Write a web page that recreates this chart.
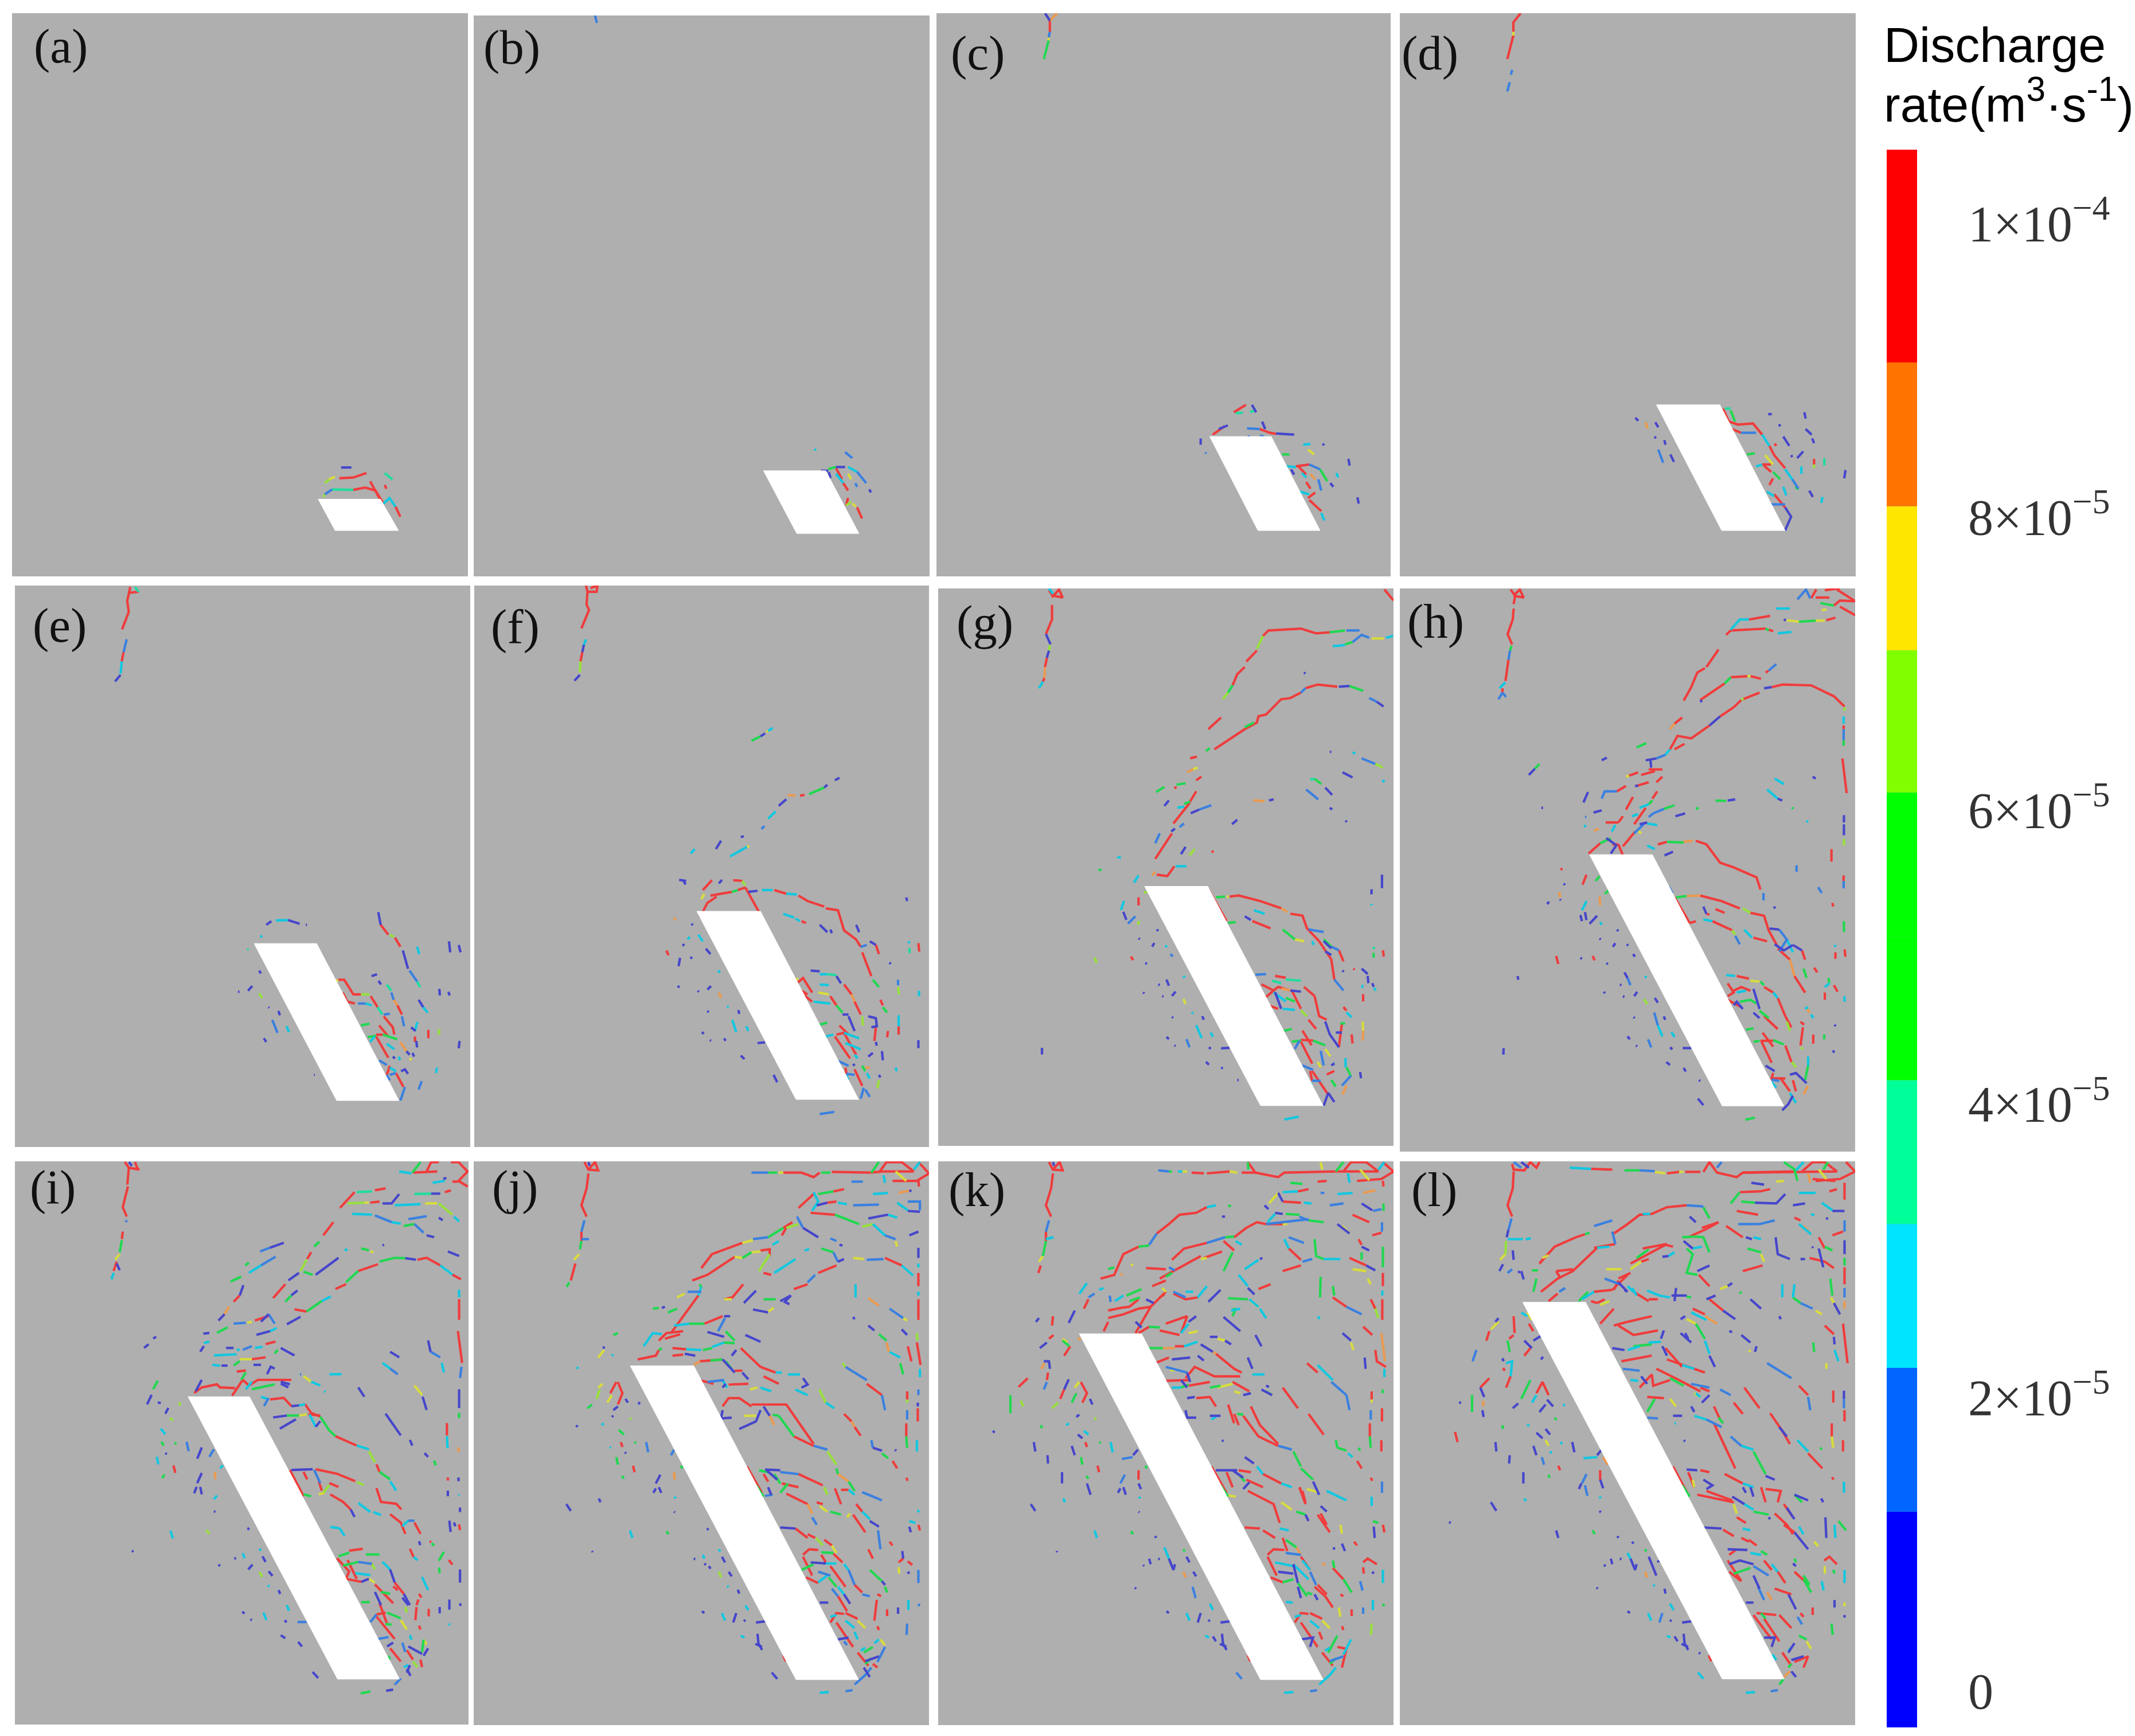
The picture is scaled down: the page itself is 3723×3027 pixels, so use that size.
<!DOCTYPE html>
<html><head><meta charset="utf-8"><script src="https://cdn.plot.ly/plotly-3.0.1.min.js"></script>
<style>html,body{margin:0;padding:0;background:#fff}</style></head><body><div id="chart"></div>
<script>
const panelLabels=["(a)","(b)","(c)","(d)","(e)","(f)","(g)","(h)","(i)","(j)","(k)","(l)"];
const colorBarBins=[-0.25,1.22,2.2,3.18,4.16,5.14,6.12,7.09,8.07,9.05,10.5];
const colorBarColors=["#0000ff","#0066ff","#00e5ff","#00ff99","#00ff00","#00ff00","#80ff00","#ffe600","#ff7300","#ff0000"];
const colorBarTicks=[0,2,4,6,8,10];
const colorBarTickText=["0","2×10<sup>−5</sup>","4×10<sup>−5</sup>","6×10<sup>−5</sup>","8×10<sup>−5</sup>","1×10<sup>−4</sup>"];
const segA=[["d",565,1253,582,1253],["r",562,1282,585,1280,607,1268],["y",545,1285,555,1278],["l",538,1295,545,1285],["r",613,1290,630,1340],["m",637,1268,650,1285],["r",637,1300,640,1310],["b",538,1325,550,1312],["m",550,1312,585,1313],["r",585,1313,605,1307,622,1315,635,1350],["c",635,1350,645,1335,655,1358],["r",655,1358,663,1385],["l",535,1332,540,1322]];
const segB=[["b",986,42,989,62],["c",1350,1203,1351,1208],["b",1400,1212,1412,1228],["d",1360,1262,1372,1262],["g",1372,1258,1385,1252],["d",1385,1252,1400,1252],["c",1405,1252,1420,1265],["b",1420,1265,1435,1295],["d",1440,1312,1443,1320],["r",1385,1255,1395,1285],["c",1385,1270,1397,1295],["y",1405,1270,1410,1285],["r",1397,1295,1405,1315],["b",1417,1295,1420,1305],["r",1405,1335,1402,1355],["l",1402,1355,1410,1345],["y",1412,1350,1418,1358],["r",1420,1360,1428,1390],["d",1373,1265,1376,1282]];
const segC=[["d",192,35,200,55],["o",212,35,200,55],["r",200,55,200,85],["b",200,85,198,100],["y",198,100,198,108],["g",198,108,190,158],["r",470,1165,490,1142],["d",480,1150,495,1140],["r",505,1105,525,1085],["m",508,1108,520,1106],["d",535,1085,542,1105],["m",532,1105,542,1098],["d",552,1130,557,1150],["b",527,1148,548,1150],["r",548,1150,565,1160,575,1163],["d",575,1162,605,1165],["d",450,1175,450,1192],["b",458,1212,459,1216],["b",528,1170,532,1170],["b",548,1168,555,1170],["c",620,1192,632,1190],["y",628,1205,638,1218],["d",652,1190,655,1193],["g",585,1218,597,1218],["c",592,1250,608,1252],["r",608,1250,630,1245],["b",630,1245,648,1258],["g",648,1258,660,1290],["r",612,1250,625,1272],["c",618,1268,625,1280],["o",632,1270,640,1285],["r",625,1292,632,1310],["b",645,1285,650,1315],["d",665,1295,670,1305],["d",695,1230,697,1248],["c",675,1268,678,1280],["c",615,1318,630,1325],["r",630,1340,650,1370],["c",650,1375,655,1395],["r",628,1335,640,1320],["d",710,1333,712,1350],["d",600,1258,605,1272]];
const segD=[["r",980,35,968,60,968,85],["y",968,85,968,95],["r",968,95,958,158],["b",966,187,964,200],["b",962,220,958,245],["d",1170,1120,1175,1128],["o",1187,1132,1190,1148],["d",1203,1132,1208,1145],["d",1202,1170,1204,1175],["d",1218,1180,1220,1192],["b",1208,1205,1216,1240],["d",1228,1218,1234,1238],["m",1318,1095,1328,1095],["g",1328,1100,1335,1130],["r",1315,1095,1325,1130,1340,1138,1365,1135,1380,1165],["b",1345,1160,1370,1160],["r",1330,1150,1345,1160],["c",1380,1165,1392,1195],["r",1392,1195,1400,1220,1418,1255],["y",1385,1220,1398,1245],["g",1355,1218,1368,1215],["c",1370,1250,1380,1245],["r",1380,1245,1395,1245],["r",1383,1248,1395,1265],["g",1398,1265,1410,1285],["c",1418,1258,1430,1285],["b",1430,1285,1440,1310],["c",1388,1318,1400,1330],["r",1400,1325,1418,1360],["b",1395,1352,1418,1352],["d",1418,1360,1428,1385,1418,1422],["d",1390,1110,1396,1110],["d",1450,1105,1452,1122],["d",1408,1137,1410,1143],["d",1452,1150,1462,1165],["d",1463,1175,1466,1188],["d",1415,1170,1425,1195],["r",1400,1190,1404,1194],["d",1428,1220,1430,1225],["d",1438,1228,1448,1210],["c",1445,1250,1445,1270],["r",1466,1230,1466,1245],["l",1466,1245,1466,1255],["m",1483,1228,1483,1248],["d",1518,1260,1516,1282],["d",1458,1315,1464,1332],["c",1480,1332,1478,1348],["r",1398,1282,1392,1300],["c",1415,1305,1420,1328],["g",1435,1305,1440,1312]];
const segE=[["r",430,22,420,60,425,90,403,138],["m",445,22,458,35],["r",425,38,458,35],["b",418,165,408,200],["r",408,200,402,225],["c",402,225,398,258],["d",398,262,380,280],["d",878,945,895,935],["c",910,933,950,932],["d",950,932,988,942],["d",1008,945,1012,945],["c",858,978,865,975],["m",815,1012,820,1012],["d",855,1070,860,1078],["d",818,1125,832,1112],["d",785,1128,790,1128],["l",855,1132,864,1145],["d",885,1170,888,1172],["d",918,1180,923,1192],["b",898,1205,915,1240],["c",945,1222,953,1238],["d",870,1255,878,1265],["d",1035,1355,1038,1355],["d",1247,910,1255,945],["r",1255,945,1280,972],["l",1285,972,1298,978],["r",1302,980,1320,1005],["d",1328,1015,1345,1065],["b",1350,1070,1375,1100],["m",1375,1100,1385,1115],["c",1375,1005,1382,1025],["d",1480,990,1484,1020],["d",1512,1000,1518,1020],["d",1225,1085,1243,1080],["d",1248,1098,1256,1108],["m",1275,1108,1290,1125],["b",1290,1130,1298,1150],["o",1298,1150,1310,1165],["r",1310,1165,1325,1190],["y",1108,1095,1115,1100],["r",1115,1095,1135,1095,1165,1135,1190,1135],["l",1190,1135,1218,1135],["r",1222,1140,1245,1170],["m",1245,1170,1260,1190],["r",1265,1195,1295,1225,1300,1245],["b",1265,1190,1285,1188],["r",1130,1130,1145,1155,1170,1160],["b",1180,1160,1205,1160],["c",1205,1160,1225,1165],["g",1190,1220,1218,1215],["d",1448,1120,1450,1138],["d",1478,1128,1482,1138],["d",1380,1150,1395,1170],["c",1395,1170,1410,1185],["r",1250,1220,1280,1250],["g",1212,1252,1240,1248],["r",1240,1245,1262,1245],["g",1262,1245,1310,1258],["o",1320,1265,1340,1290],["d",1340,1290,1350,1300],["y",1350,1310,1357,1314],["c",1220,1265,1235,1250],["r",1240,1250,1280,1308],["c",1275,1270,1300,1285],["b",1325,1195,1332,1222],["d",1355,1225,1370,1235],["c",1368,1235,1376,1210],["r",1368,1250,1368,1265],["d",1372,1262,1375,1280],["r",1412,1232,1412,1255],["l",1447,1230,1447,1245],["d",1515,1262,1512,1282],["d",1295,1305,1302,1310],["c",1315,1305,1318,1315],["d",1360,1295,1365,1305],["c",1440,1335,1438,1350],["b",1390,1372,1380,1395],["b",1250,1315,1275,1328],["c",1285,1335,1305,1345],["r",1285,1330,1275,1355],["b",1275,1355,1285,1370],["b",1285,1355,1305,1350],["r",1305,1350,1330,1388],["b",1335,1388,1320,1425],["d",1322,1345,1335,1340,1345,1352]];
const segF=[["r",400,18,405,35,402,70,410,85,385,135],["r",405,35,435,35,438,18,415,25],["c",400,165,393,180],["d",393,180,388,200],["r",388,200,382,225],["l",382,225,380,255],["d",380,262,362,278],["g",945,442,975,430],["d",975,430,990,422],["y",995,418,1000,415],["c",1000,415,1015,407],["d",1220,550,1235,543],["g",1135,588,1185,570],["d",1185,570,1195,562],["o",1065,590,1090,592],["r",1105,592,1120,590],["d",1035,620,1060,602],["c",1000,655,1025,635],["b",978,683,988,675],["d",910,705,920,703],["c",875,758,930,732],["y",930,732,938,730],["d",828,738,845,715],["c",745,750,758,738],["d",707,822,730,825],["d",722,825,728,835],["d",838,832,848,822],["r",785,850,815,823],["y",780,875,790,860],["r",885,823,915,825],["l",915,825,925,838],["r",775,925,800,885,830,868],["r",810,865,880,855],["g",880,855,900,850],["r",900,850,925,843],["r",925,843,980,925],["d",935,855,965,852],["c",980,850,1015,850],["r",1020,850,1060,860],["c",1060,860,1095,862],["r",1100,865,1130,880,1185,895],["r",1190,900,1230,905,1250,960,1290,985,1305,1005],["b",1305,1005,1325,1000],["r",1310,1020,1340,1085],["g",1345,1095,1365,1115],["c",1050,915,1085,925],["c",1090,928,1105,935],["r",1110,935,1125,940],["d",1170,945,1195,965],["d",1205,958,1210,968],["d",1290,945,1300,965],["d",1335,990,1355,1000],["r",1355,1000,1365,1025],["d",1455,870,1458,880],["c",1462,990,1466,995],["m",1465,1008,1466,1022],["r",1495,995,1498,1018],["o",690,925,695,932],["d",748,942,752,946],["c",735,985,742,978],["c",770,972,785,990],["d",718,998,724,1002],["d",710,1035,705,1058],["d",746,1032,748,1038],["r",665,1015,672,1028],["d",795,1010,810,1025],["c",835,1070,842,1075],["d",702,1112,708,1116],["d",768,1125,772,1128],["d",800,1122,812,1112],["o",838,1130,845,1145],["c",865,1168,870,1170],["d",800,1180,804,1184],["d",902,1178,905,1188],["c",882,1205,895,1238],["c",928,1222,935,1235],["d",782,1238,788,1243],["d",855,1255,860,1262],["d",808,1260,812,1262],["d",965,1268,990,1266],["d",910,1302,922,1312],["d",1018,1355,1030,1375],["b",1170,1462,1218,1456],["y",1088,1095,1100,1092],["r",1095,1105,1115,1090,1145,1130],["y",1165,1130,1200,1135],["d",1140,1070,1170,1072],["c",1170,1080,1195,1080],["m",1195,1080,1225,1082],["d",1225,1085,1240,1105],["r",1250,1108,1275,1135],["o",1275,1135,1285,1155],["r",1285,1155,1305,1190],["c",1170,1108,1200,1110],["r",1110,1125,1130,1135],["r",1115,1135,1145,1155],["c",1150,1155,1205,1160],["r",1205,1140,1225,1165],["g",1225,1165,1245,1185],["d",1245,1190,1265,1190],["r",1235,1220,1265,1245],["d",1265,1195,1285,1235],["g",1170,1218,1195,1212],["c",1190,1250,1215,1245],["r",1225,1245,1250,1240,1290,1300],["r",1220,1250,1270,1310],["c",1250,1240,1300,1255],["c",1255,1268,1305,1285],["d",1330,1195,1355,1200,1358,1222,1340,1225],["l",1310,1195,1312,1220],["r",1355,1225,1350,1262],["d",1355,1265,1358,1275],["r",1395,1235,1392,1252],["r",1430,1222,1430,1245],["c",1430,1192,1430,1222],["l",1428,1115,1431,1135],["b",1428,1095,1428,1110],["c",1497,1125,1497,1140],["d",1495,1260,1495,1282],["r",1370,1150,1378,1165],["g",1378,1170,1392,1185],["d",1400,1048,1404,1052],["d",1375,1290,1378,1315],["d",1330,1305,1345,1295],["c",1420,1335,1424,1345],["b",1225,1315,1265,1330],["r",1255,1335,1258,1352],["r",1285,1340,1310,1385],["c",1255,1355,1265,1368],["b",1258,1352,1285,1355],["g",1310,1330,1320,1345],["o",1320,1335,1335,1335],["c",1325,1350,1335,1365],["l",1365,1370,1360,1392],["d",1365,1355,1370,1362],["b",1315,1390,1305,1420],["b",1320,1395,1335,1415],["c",1285,1300,1295,1310],["d",1280,1325,1285,1330]];
const segG=[["r",395,30,408,45,405,50],["r",410,45,440,50,428,28,410,45],["c",395,25,408,40],["r",405,70,405,110,385,150],["d",385,150,400,178],["l",398,180,395,195],["d",395,195,388,215],["r",388,215,382,240],["o",382,240,380,270],["r",380,270,375,280],["c",375,280,362,298],["l",968,328,985,310],["g",985,310,1000,290],["r",1000,290,1015,260,1040,240],["r",1045,225,1080,195],["l",1080,190,1100,155],["r",1100,155,1118,140,1225,135,1275,148,1320,145],["g",1320,145,1370,140],["b",1375,140,1418,140],["c",1330,183,1370,180],["g",1370,178,1395,172],["b",1395,172,1425,152,1450,160],["y",1458,162,1498,162],["c",1505,160,1528,155],["r",1500,28,1530,58],["r",940,465,1040,410,1080,392,1085,375,1110,370,1160,328,1190,325,1225,310],["b",1225,310,1240,298],["r",1240,298,1280,288,1345,294],["d",1350,294,1385,292],["g",1385,292,1430,305],["b",1450,325,1475,335],["d",1475,335,1497,348],["g",1040,405,1070,392],["g",912,470,925,462],["r",920,410,962,378],["r",860,490,882,485],["o",850,528,870,520],["y",870,520,885,515],["r",880,550,897,540],["g",748,582,775,568],["r",808,572,815,568],["g",815,562,845,558],["d",775,620,790,605],["c",818,625,840,622],["g",840,615,860,608],["r",860,608,880,580],["r",860,610,805,668],["d",862,640,890,630],["b",890,630,930,618],["b",825,678,840,668],["d",798,690,810,682],["r",800,695,745,765],["b",745,722,760,695],["d",830,752,845,732],["l",858,755,875,738],["r",930,745,938,745],["d",998,670,1015,658],["o",1068,605,1105,607],["d",1120,605,1135,602],["d",1235,255,1240,258],["d",1320,472,1325,472],["c",1395,474,1405,476],["b",1425,490,1470,505],["l",1470,505,1495,515],["c",1497,548,1497,556],["d",1362,528,1395,542],["m",1255,548,1270,546],["g",1270,546,1292,560],["b",1242,575,1282,602],["d",1305,570,1328,590],["d",1320,625,1328,630],["d",1372,660,1376,664],["d",1492,808,1492,845],["d",1458,848,1457,862],["c",1458,888,1457,892],["o",735,810,745,800],["r",750,808,785,812,808,785],["c",812,785,848,785],["c",675,830,690,810],["l",708,858,718,855],["r",690,870,690,892],["c",632,905,642,880],["d",640,910,650,932],["b",655,942,680,922],["l",688,945,692,935],["c",620,760,632,762],["g",558,795,568,795],["l",545,1035,552,1050],["r",665,1032,672,1042],["d",750,958,755,962],["d",690,982,694,985],["d",735,1005,742,995],["c",778,1002,784,1006],["b",795,1025,803,1032],["d",712,1050,718,1052],["d",782,1095,790,1112],["d",755,1108,760,1110],["c",838,1085,842,1090],["d",705,1130,709,1133],["d",768,1140,772,1142],["d",800,1140,812,1128],["y",838,1148,845,1162],["c",865,1185,870,1188],["d",800,1197,804,1200],["d",900,1195,905,1205],["c",880,1220,898,1255],["c",928,1240,935,1252],["d",782,1252,790,1258],["b",848,1258,858,1280],["d",808,1275,812,1277],["d",922,1280,928,1285],["d",962,1283,990,1282],["d",912,1320,922,1328],["d",962,1336,968,1338],["d",1015,1370,1020,1370],["d",372,1282,372,1300],["c",1170,1478,1218,1470],["g",945,870,975,868],["y",980,868,988,868],["r",990,868,1020,865,1090,880,1160,900],["o",1160,900,1180,910],["r",1190,915,1230,920,1245,955,1285,990],["r",1285,990,1325,1040,1335,1095],["b",1335,1095,1365,1125],["b",1250,958,1300,965],["d",1300,990,1325,1010],["g",1300,985,1325,1005],["b",1325,1005,1350,1015],["r",1350,1015,1365,1045],["r",920,848,980,935],["g",985,940,1010,938],["c",1070,905,1105,915],["d",1040,922,1060,932],["r",1065,935,1125,955],["g",1165,958,1205,985],["y",1205,985,1235,990],["c",1262,990,1268,1000],["d",1305,1018,1325,1028],["d",1362,1070,1366,1074],["r",1398,1065,1402,1068],["d",1425,1065,1445,1080],["d",1445,1085,1447,1105],["c",1428,1110,1427,1118],["d",1460,1105,1465,1115],["c",1465,1118,1472,1125],["r",1430,1135,1430,1155],["m",1465,1005,1465,1012],["g",1464,1022,1465,1035],["r",1495,1015,1498,1032],["b",1075,1082,1110,1080],["r",1140,1085,1175,1090],["m",1130,1098,1160,1105],["m",1175,1095,1225,1098],["r",1235,1115,1270,1140],["r",1270,1140,1285,1195,1310,1205],["r",1095,1108,1135,1125,1100,1150],["r",1135,1125,1150,1115,1190,1125],["o",1160,1120,1195,1125],["d",1190,1125,1225,1128],["r",1195,1125,1225,1175],["l",1225,1180,1245,1195],["c",1135,1130,1175,1155],["c",1165,1175,1205,1178],["r",1115,1165,1150,1175],["d",1140,1130,1160,1175],["g",1175,1145,1205,1155],["r",1250,1205,1275,1230],["d",1305,1210,1320,1245,1350,1280],["d",1340,1240,1360,1240],["r",1360,1215,1350,1280],["g",1355,1215,1370,1215],["r",1365,1170,1375,1180],["c",1375,1185,1392,1198],["r",1392,1245,1395,1270],["y",1428,1210,1430,1235],["o",1430,1235,1428,1262],["g",1170,1235,1195,1230],["r",1230,1235,1260,1275],["r",1225,1260,1265,1262],["b",1205,1285,1220,1262],["g",1195,1265,1225,1262],["g",1265,1262,1305,1275],["y",1305,1285,1322,1305],["r",1225,1265,1262,1325],["b",1290,1290,1300,1330],["y",1280,1320,1290,1335],["d",1325,1330,1335,1325],["b",1230,1330,1265,1342],["r",1255,1345,1262,1372],["b",1262,1372,1290,1372],["c",1255,1375,1265,1395],["r",1262,1345,1315,1410],["d",1300,1440,1315,1405,1335,1430],["r",1310,1355,1335,1345],["g",1375,1335,1390,1360],["b",1360,1385,1390,1358],["o",1375,1385,1362,1410],["g",1325,1370,1340,1388],["c",1372,1310,1372,1335],["d",1420,1348,1423,1365],["b",1330,1325,1336,1325]];
const segH=[["r",405,28,420,45,415,68],["r",415,45,448,50,435,28,415,45],["r",415,80,412,110,395,150,410,178],["g",408,182,403,195],["b",403,195,398,220],["r",398,220,388,278],["c",388,282,368,298],["r",378,298,378,310],["b",378,310,365,328],["b",378,310,390,322],["b",1350,55,1378,28,1392,52],["r",1395,52,1412,28],["r",1410,50,1455,50],["g",1425,65,1470,72],["r",1470,72,1490,58,1540,60],["r",1480,28,1540,60],["r",1490,75,1540,98],["r",1440,30,1490,25],["c",1280,80,1325,80],["y",1430,85,1445,82],["r",1115,152,1130,140,1245,135],["g",1245,135,1255,140],["r",1255,138,1270,142],["c",1285,148,1330,144],["c",1130,138,1160,110,1190,110],["r",1190,110,1260,100],["d",1305,110,1312,112],["y",1315,112,1355,116],["g",1355,116,1410,113],["y",1410,113,1440,113],["r",1445,112,1475,105],["r",1050,240,1090,192],["r",975,332,1000,295,1020,255,1045,243],["r",1030,330,1110,285],["g",1110,285,1130,268],["r",1130,268,1185,265],["y",1185,265,1195,265],["r",1195,265,1230,272],["r",1245,255,1255,250],["b",1255,250,1280,232],["d",1030,330,1035,336],["r",1170,328,1225,310],["d",1240,298,1265,295],["r",1265,295,1300,288,1395,290,1470,320,1505,348],["l",1505,350,1505,360],["r",1140,350,1165,330],["l",1165,330,1172,325],["d",1060,400,1095,375],["r",1095,375,1140,350],["r",1060,400,1000,435,955,428,930,465],["c",930,465,915,480],["b",915,480,885,490],["d",850,495,885,490],["d",865,490,868,515],["r",945,465,978,450],["c",1502,375,1502,395],["r",1502,400,1502,410],["b",1502,410,1502,440],["g",1502,440,1502,455],["r",1498,490,1512,585],["r",945,395,970,378],["o",930,410,945,395],["g",820,460,852,448],["d",705,495,722,488],["r",835,535,880,525],["y",785,540,795,537],["r",795,537,825,528],["r",860,520,905,520],["r",885,555,905,540],["r",820,565,860,555],["d",815,565,825,565],["r",785,630,808,595],["r",812,670,850,625],["c",830,625,860,615],["g",860,615,872,605],["r",872,600,888,580],["d",645,610,660,582],["b",705,600,715,580,755,580],["r",755,580,785,565],["d",678,638,705,632],["b",650,650,655,650],["c",648,678,652,672],["r",718,665,760,665],["r",760,665,775,648],["c",805,648,825,642],["b",860,650,875,640],["b",875,640,910,628],["g",910,628,945,618],["d",948,648,980,640],["g",1015,628,1025,625],["g",1080,605,1115,606],["d",1120,605,1145,602],["d",830,670,855,665],["c",855,668,888,672],["b",812,695,845,668],["r",662,750,700,722],["g",700,722,735,708],["d",720,708,750,725],["d",735,750,755,725],["r",760,725,780,765],["r",740,725,760,725],["r",775,730,815,690],["y",825,688,835,695],["c",855,728,880,738],["d",912,755,940,745],["r",890,725,920,718],["g",920,718,975,720],["o",975,718,1005,715],["r",1015,715,1050,725,1095,775,1140,788,1215,815,1228,848],["b",1238,858,1238,878],["d",1272,895,1277,900],["c",738,690,750,672],["o",680,688,695,682],["d",465,535,485,518],["g",485,518,500,505],["d",506,625,512,625],["r",570,795,575,790],["d",580,832,584,836],["o",565,855,568,870],["d",525,888,532,882],["d",568,875,570,878],["r",642,835,655,808],["c",640,905,655,880],["g",685,825,698,812],["g",715,860,730,850],["o",698,868,700,892],["d",635,918,640,935],["d",650,910,655,932],["d",665,942,690,920],["c",700,938,705,945],["d",755,958,760,962],["d",698,982,702,985],["d",742,1005,750,995],["d",788,998,792,1002],["d",808,1025,815,1032],["r",555,1030,562,1052],["d",635,1035,640,1038],["r",675,1030,682,1042],["d",720,1050,726,1052],["d",428,1085,430,1095],["d",780,1075,790,1090],["b",790,1090,800,1110],["c",848,1085,852,1090],["d",765,1108,770,1110],["d",712,1128,716,1132],["d",775,1140,780,1142],["d",812,1140,822,1128],["l",845,1148,855,1162],["d",880,1145,890,1158],["d",810,1197,814,1200],["d",910,1195,914,1205],["b",878,1185,890,1220],["c",890,1220,905,1250],["c",935,1238,945,1252],["d",790,1250,798,1258],["b",858,1258,868,1280],["d",818,1275,822,1277],["d",930,1280,938,1285],["d",972,1282,1000,1282],["d",382,1282,381,1300],["d",918,1320,930,1328],["d",975,1336,982,1346],["d",1025,1370,1030,1372],["d",1022,1420,1040,1438],["g",1178,1478,1210,1472],["b",925,840,938,858],["g",950,870,985,866],["o",985,866,1030,865],["r",1030,865,1100,880,1160,900],["l",1170,900,1195,912],["r",1195,912,1240,920,1255,960,1275,990,1285,1005],["r",945,870,995,940],["r",995,940,1015,935],["d",1040,895,1050,915],["r",1050,915,1060,917],["r",1080,902,1110,912],["c",1040,930,1070,935],["r",1070,935,1135,960],["l",1135,960,1145,972],["b",1145,975,1160,998],["c",1175,958,1200,980],["r",1205,980,1250,990],["d",1258,955,1290,958],["b",1290,958,1315,985,1290,1018],["d",1275,998,1305,1015,1335,1000],["c",1315,985,1335,1020],["d",1335,1000,1365,1015],["r",1365,1015,1375,1040],["r",1285,1010,1325,1040],["o",1325,1040,1340,1085],["r",1340,1085,1375,1130],["g",1370,1065,1380,1090],["r",1405,1062,1415,1075],["d",1503,645,1503,665],["d",1503,670,1503,700],["l",1503,710,1503,728],["r",1462,738,1462,772],["b",1347,782,1347,800],["r",1502,810,1502,825],["b",1502,825,1502,845],["b",1418,842,1430,858],["r",1465,885,1468,895],["g",1503,935,1503,965],["c",1472,1000,1476,1005],["r",1475,1020,1475,1038],["r",1505,1012,1508,1032],["c",1380,660,1385,664],["c",1275,545,1305,560],["c",1250,575,1285,600],["d",1285,600,1300,605],["g",1332,624,1336,628],["d",1400,540,1410,545],["c",1115,1082,1145,1085],["r",1150,1085,1190,1092],["y",1195,1098,1225,1100],["g",1228,1100,1240,1110],["r",1240,1115,1270,1130],["c",1270,1130,1285,1145],["r",1285,1145,1310,1195],["r",1120,1105,1140,1130,1120,1140],["r",1140,1125,1165,1115,1195,1125],["c",1150,1130,1180,1125],["r",1120,1150,1165,1170],["d",1140,1165,1150,1155,1170,1175],["g",1160,1155,1195,1150,1215,1160],["d",1205,1120,1225,1175],["d",1205,1185,1225,1200],["g",1225,1180,1255,1200],["r",1240,1195,1285,1230],["r",1310,1195,1330,1225],["l",1315,1210,1325,1235],["g",1180,1232,1205,1228],["r",1235,1240,1270,1278],["r",1228,1262,1270,1262],["g",1205,1265,1225,1262],["g",1270,1260,1305,1272],["r",1232,1265,1265,1322],["r",1310,1275,1330,1320],["l",1332,1320,1345,1335],["d",1245,1330,1275,1345],["r",1270,1350,1265,1365,1310,1365],["b",1265,1368,1290,1372],["c",1265,1375,1280,1390],["r",1295,1365,1325,1400],["c",1325,1405,1345,1432],["d",1325,1355,1345,1350,1380,1378],["r",1335,1370,1345,1400],["c",1385,1305,1385,1330],["g",1385,1330,1375,1370],["o",1385,1385,1370,1408],["d",1300,1452,1320,1435,1335,1412],["r",1360,1210,1372,1218],["r",1368,1225,1360,1275],["l",1362,1280,1368,1285],["c",1375,1175,1385,1170],["r",1402,1245,1402,1270],["g",1438,1245,1438,1258],["d",1468,1288,1470,1295],["d",1472,1218,1476,1222],["o",1378,1170,1390,1185],["c",1395,1190,1402,1200],["c",1440,1115,1455,1105],["g",1452,1090,1455,1105],["r",1440,1130,1440,1150],["r",1470,1110,1482,1128],["c",1505,1140,1505,1155],["r",1365,1118,1375,1130]];
const segI=[["r",412,40,425,55,420,100],["r",425,55,460,60],["d",425,40,435,50],["r",445,40,455,60],["r",422,105,405,160,418,185],["b",415,195,418,200],["r",405,225,402,245],["g",402,248,395,280],["y",395,285,380,300],["r",385,305,375,330],["d",385,310,395,328],["c",375,335,368,352],["r",1360,68,1440,65],["g",1358,68,1385,40],["c",1315,65,1355,70],["r",1405,65,1420,40,1445,40],["r",1485,40,1510,40,1540,65,1510,90,1540,105],["c",1425,95,1465,90],["d",1460,85,1470,82],["r",1490,92,1510,92],["r",1120,162,1168,120],["m",1175,120,1225,118],["r",1235,115,1270,110],["l",1145,150,1200,148],["y",1200,148,1215,148],["r",1220,148,1250,145],["d",1260,150,1290,150,1315,125],["c",1300,155,1385,152],["y",1400,150,1440,150],["l",1445,150,1490,180],["c",1495,185,1512,198],["m",1365,125,1420,124],["d",1420,124,1450,124],["r",1465,120,1485,115],["c",1160,178,1225,180],["b",1235,182,1290,200],["c",1290,200,1320,204],["g",1330,210,1365,205],["b",1365,205,1395,228],["d",1405,235,1430,240],["b",1345,192,1405,184],["d",1445,188,1458,195],["d",1475,278,1512,290],["d",1260,262,1265,260],["r",1065,235,1098,200],["g",1035,265,1052,252],["r",1012,298,1025,280],["l",990,330,1010,300],["g",1000,332,1030,340],["d",1040,340,1115,295],["c",1135,275,1145,272],["g",1190,270,1215,275],["y",1220,278,1230,280],["r",900,402,940,365],["d",950,355,985,335],["g",940,412,960,395],["d",960,395,980,382],["b",857,278,890,268],["d",890,268,935,255],["c",820,335,860,315],["b",860,315,908,292],["g",808,315,820,308],["g",760,358,795,345],["d",790,395,802,368],["r",770,412,790,395],["o",740,445,755,425],["d",720,462,740,445],["r",1105,378,1140,365],["g",1140,360,1180,330],["r",1180,330,1245,312],["g",1250,305,1300,295,1335,296],["d",1335,296,1370,300],["r",1375,300,1405,295,1450,315],["c",1450,315,1490,340],["r",1490,340,1518,352],["c",1512,380,1512,400],["r",1512,405,1512,460],["r",1508,490,1522,575],["b",1520,585,1515,615],["d",1512,645,1512,695],["g",1512,708,1512,722],["r",1472,735,1472,768],["c",1472,770,1474,802],["o",1510,800,1510,812],["d",1510,880,1510,890],["r",1475,880,1475,888],["d",1475,915,1475,930],["c",1512,925,1512,928],["d",1515,960,1515,972],["d",1480,995,1484,1025],["d",1495,1000,1500,1010],["r",1512,1005,1515,1020],["r",970,432,1010,438],["g",1010,438,1060,410],["c",1060,410,1090,398],["d",945,472,990,452],["d",845,500,890,490],["c",890,490,912,482],["b",905,470,885,445],["d",885,445,860,465],["r",840,462,885,450],["y",815,468,830,465],["b",770,470,810,468],["g",715,495,750,480],["d",670,497,690,495],["c",672,522,690,518],["d",660,545,672,530],["r",875,525,908,518],["c",840,535,865,532],["b",800,540,830,530],["d",745,535,770,535],["c",705,555,780,552],["c",780,540,790,540],["g",905,550,915,540],["d",925,535,970,555],["g",770,582,790,570],["y",790,565,830,565],["r",830,565,875,560],["c",700,580,725,582],["d",730,582,750,582],["d",835,580,860,580],["d",880,605,892,585,905,590],["r",780,598,810,595],["g",795,620,810,600],["r",640,655,665,640,715,632,725,640,775,642],["r",765,662,800,620,820,635,850,620,960,620],["c",810,645,830,625],["g",830,645,905,632],["d",925,625,955,632],["d",925,630,950,640],["y",1000,610,1025,625],["c",1025,625,1055,635],["c",1085,605,1125,605],["b",988,605,992,605],["c",1068,650,1072,652],["d",645,650,665,620],["d",1180,640,1200,665],["y",1365,635,1390,660],["d",1392,665,1405,700],["d",1270,710,1320,768],["d",1350,780,1358,795],["d",1398,815,1410,825],["g",1430,835,1435,848],["c",1260,575,1285,590],["b",1285,590,1310,605],["d",1285,545,1315,560],["d",1410,515,1418,545],["b",1418,545,1450,560],["c",1455,575,1462,600],["d",475,535,490,525],["d",505,510,515,505],["g",505,645,520,622],["d",485,685,500,660],["d",520,680,530,682],["l",590,680,595,688],["d",545,710,555,695],["l",560,722,570,728],["c",530,750,545,765],["g",532,785,540,795],["g",575,788,582,790],["d",545,815,550,818],["c",517,825,522,845],["r",572,848,578,868],["g",535,882,542,872],["b",615,785,622,810],["d",650,830,665,800],["b",690,825,705,805],["c",725,855,735,848],["d",650,895,665,868],["o",708,865,710,885],["d",640,922,648,905],["d",660,905,665,925],["c",705,938,715,928],["d",705,970,710,972],["c",562,1022,570,1042],["l",680,1020,690,1030],["d",435,1075,440,1078],["d",815,1015,822,1018],["d",720,1112,725,1116],["c",800,1082,806,1095],["d",772,1095,778,1096],["c",855,1070,860,1075],["d",865,1090,875,1105],["d",818,1125,832,1112],["l",855,1132,864,1145],["d",885,1130,898,1142],["c",882,1168,888,1170],["d",918,1180,923,1190],["c",945,1220,952,1235],["d",798,1238,806,1242],["c",868,1240,878,1260],["d",825,1258,830,1260],["d",938,1260,944,1266],["b",980,1265,1010,1265],["d",925,1300,940,1308],["d",982,1318,995,1330],["d",1030,1398,1048,1414],["g",1188,1455,1220,1450],["d",1272,1448,1295,1445],["b",1300,1432,1320,1415],["b",885,668,870,690],["c",860,665,885,672],["r",890,672,935,668,960,690],["d",960,690,985,688],["c",985,688,1005,685],["r",1005,685,1025,708,1055,718],["g",1055,718,1085,755,1105,770],["r",1105,770,1175,795],["c",1175,795,1215,805],["l",1215,810,1235,840],["r",1240,845,1250,865],["g",1250,865,1285,885],["c",1285,890,1305,915],["d",900,720,945,715],["g",945,715,985,715],["y",985,715,1010,712],["r",1015,712,1055,715],["c",1020,712,1040,745],["d",1040,745,1055,730],["d",922,750,975,725],["r",955,860,1000,930],["d",960,860,1030,858],["r",1040,858,1110,870,1170,890],["l",1175,892,1198,900],["r",1000,865,1012,885],["b",1035,860,1055,895],["r",1050,890,1060,915],["l",1065,920,1085,900],["r",1085,895,1115,905],["g",1000,925,1025,930],["y",1050,925,1070,920],["r",1088,925,1130,945,1155,965],["d",1155,965,1168,985],["c",1180,948,1220,972],["c",1230,972,1255,980],["r",1240,908,1255,945,1305,950,1322,965],["r",1285,978,1320,1000,1335,1030],["c",1325,1010,1345,995],["b",1345,995,1365,995],["r",1365,1000,1385,1030],["c",1088,1012,1118,1015],["c",1118,1015,1135,1035],["d",1380,1050,1384,1060],["r",1350,1070,1362,1092],["c",1362,1092,1375,1100],["r",1415,1050,1420,1052],["g",1422,1055,1430,1062],["g",1445,1102,1462,1078],["g",1446,1120,1448,1135],["r",1478,1100,1490,1112],["d",1515,1125,1515,1160],["c",1390,1145,1410,1180],["r",1380,1190,1388,1200],["r",1378,1205,1372,1220],["r",1372,1225,1368,1260],["r",1412,1230,1412,1250],["d",1448,1225,1448,1242],["d",1480,1205,1480,1232],["d",1516,1215,1516,1222],["c",1478,1270,1482,1273],["g",1115,1090,1150,1080],["r",1150,1075,1195,1070],["g",1205,1085,1250,1085],["c",1260,1105,1285,1125],["d",1285,1125,1300,1160],["r",1300,1160,1330,1190],["d",1330,1190,1350,1220],["r",1110,1095,1150,1130,1140,1150],["g",1130,1115,1180,1105],["b",1180,1105,1225,1110],["l",1225,1110,1235,1125],["r",1145,1100,1175,1150],["c",1170,1135,1220,1140],["r",1140,1150,1190,1158],["d",1190,1158,1215,1150],["y",1215,1150,1235,1160],["r",1235,1165,1295,1215],["d",1235,1185,1255,1220],["g",1255,1185,1285,1190],["g",1190,1212,1218,1212],["r",1240,1245,1270,1240],["r",1250,1215,1275,1270],["b",1220,1265,1240,1245],["g",1275,1240,1320,1255],["y",1320,1260,1340,1285],["r",1240,1250,1300,1310],["r",1295,1170,1310,1180],["d",1325,1200,1345,1220],["l",1335,1225,1340,1240],["g",1270,1270,1290,1272],["b",1245,1310,1280,1305],["d",1275,1330,1295,1320],["r",1285,1335,1320,1370],["c",1350,1300,1355,1312],["b",1325,1320,1335,1345],["d",1345,1330,1390,1350],["d",1395,1355,1410,1335],["g",1390,1345,1395,1312],["y",1395,1312,1405,1325],["r",1340,1340,1360,1365],["r",1385,1365,1390,1385],["l",1360,1370,1375,1385],["c",1330,1385,1345,1380],["d",1350,1380,1340,1400],["d",1340,1390,1352,1408],["r",1380,1275,1385,1285],["g",1278,1355,1285,1365]];
const segJ=[["r",395,40,408,60,440,62,430,40,408,60],["d",408,40,412,50],["r",408,70,402,110,385,155,402,185],["b",395,195,385,225],["r",385,225,385,250],["g",385,250,380,272],["b",385,245,410,245],["y",378,285,360,300],["r",365,310,350,355],["g",345,360,336,372],["b",945,68,1000,68],["g",1000,68,1030,68],["y",1035,68,1050,68],["r",1050,68,1110,68,1150,80,1170,68],["g",1175,68,1205,68],["r",1210,66,1340,68],["r",1340,68,1375,65,1480,65],["g",1340,68,1365,40],["r",1365,68,1390,40,1440,40,1480,65],["r",1410,90,1490,90,1530,70,1495,40],["y",1420,65,1455,90],["c",1480,60,1500,40],["c",1380,75,1385,95],["r",1495,90,1497,105],["b",1275,92,1312,92],["c",1345,125,1395,122],["o",1430,122,1470,115],["d",1465,118,1472,115],["r",1100,162,1150,125],["c",1150,120,1165,145,1145,170],["g",1165,125,1215,118],["r",1215,118,1250,112],["d",1160,155,1195,148],["r",1195,148,1225,145],["c",1230,148,1260,152],["b",1280,155,1365,153],["r",1140,175,1220,180],["g",1220,180,1300,205],["l",1310,212,1345,205],["c",1345,205,1385,235],["b",1385,235,1420,245],["y",1420,250,1425,265],["d",1330,190,1395,180],["c",1395,180,1425,188],["c",1425,148,1460,168],["d",1460,170,1500,172],["b",1460,145,1500,145,1500,168],["d",1465,235,1495,225],["d",1495,268,1495,295],["c",1495,310,1495,320],["r",1495,335,1495,370],["c",1495,385,1495,395],["r",1495,405,1495,460],["b",1095,185,1115,215],["d",1115,215,1165,240],["b",1205,243,1225,250],["d",1235,260,1245,262],["l",1100,205,1060,215],["r",1060,215,1045,235],["r",1050,215,1080,200],["g",1000,240,1050,215],["b",950,245,1000,240],["y",915,255,950,248],["r",780,322,815,285,915,255],["c",1015,260,1035,250],["r",750,355,800,340,890,292],["y",890,292,915,295],["g",915,295,945,280],["y",945,280,975,278],["r",975,275,1005,272,1005,290],["l",1005,285,970,330],["r",985,335,1010,340],["c",1020,335,1090,298],["c",1120,275,1135,272],["g",1175,270,1215,280],["b",1215,280,1230,305],["r",1165,335,1225,315],["d",1230,305,1250,298],["y",1280,295,1315,298],["b",1325,300,1380,298],["r",1385,295,1440,315],["c",1440,315,1478,342],["r",1085,378,1130,365],["b",1130,360,1155,340],["r",855,405,880,400],["r",880,402,918,365],["y",855,405,880,405],["d",920,415,960,382],["g",985,405,1025,405],["d",1040,410,1075,395,1055,412,1070,418],["d",950,432,1000,440],["y",1000,438,1018,428],["c",1288,365,1288,400],["o",1330,402,1365,422],["b",1400,430,1445,455],["y",1445,455,1458,462],["d",1440,485,1458,500],["b",735,385,780,385],["g",775,365,780,375],["c",780,372,770,395],["r",770,395,680,495],["y",700,400,725,390],["g",620,430,640,428],["d",650,428,660,425],["g",670,440,700,430],["c",690,475,740,470],["g",740,470,790,470],["r",790,470,850,450],["d",855,450,875,450],["b",858,455,835,490],["d",800,492,855,505],["g",860,490,890,515],["r",640,515,665,495,720,490],["c",590,530,620,495,650,498],["r",660,510,710,498],["r",570,565,630,555,640,540],["g",640,540,650,535],["r",685,535,730,538],["c",730,538,780,540],["g",785,540,815,535],["r",685,555,720,552],["d",725,550,760,555],["c",815,532,855,520],["g",855,520,890,522],["d",925,500,975,518],["d",880,555,895,540],["r",910,535,975,585],["r",975,585,1025,600],["c",1025,600,1045,600],["c",1065,605,1105,605],["d",1110,640,1130,632,1115,615],["r",985,610,1035,630],["c",975,640,1010,650],["c",1090,645,1130,660],["l",1168,645,1190,680],["c",1190,680,1218,695],["r",1250,710,1275,730],["o",1275,730,1285,745],["r",1285,745,1305,768],["l",1245,575,1255,585],["b",1255,585,1325,620],["r",1325,630,1375,660],["b",1375,660,1385,700],["d",1280,452,1285,458],["d",1330,475,1350,488],["g",1365,498,1390,515],["o",1390,520,1398,545],["c",1400,545,1435,560],["g",1435,575,1445,605],["r",1460,530,1472,570],["l",1490,495,1492,515],["r",1490,520,1502,580],["c",1500,590,1500,612],["b",1495,645,1495,660],["d",1493,680,1493,690],["r",1493,695,1493,730],["r",1458,650,1458,672],["l",1458,672,1458,680],["b",1458,700,1458,725],["r",1455,735,1455,770],["g",1455,770,1458,800],["c",1490,780,1490,810],["b",1340,780,1345,800],["d",1345,800,1375,808],["g",1375,815,1395,828],["r",1410,835,1425,855],["d",1418,805,1422,808],["r",1455,880,1460,888],["c",1495,965,1495,972],["c",1465,995,1485,1000],["d",1465,1010,1470,1025],["r",1495,1005,1500,1020],["o",755,580,775,570],["r",775,570,850,565],["g",810,568,850,565],["d",850,565,890,600],["g",860,570,880,590],["r",890,595,915,595],["d",915,600,935,618],["r",775,620,820,630],["b",800,625,855,620],["c",850,620,865,640],["d",850,640,860,630],["r",870,632,935,630],["y",940,645,965,640],["r",850,690,870,668,905,668,945,690],["d",850,700,845,722,880,720],["y",920,715,960,715],["d",905,750,960,730,975,700],["r",945,685,1060,685,1150,790],["d",985,690,1005,715],["o",1005,715,1020,740],["g",1015,712,1035,715],["g",1035,715,1085,770],["r",1085,770,1150,795],["b",1150,795,1195,805],["l",1195,810,1225,845],["g",1225,855,1230,870],["o",1230,870,1265,890],["g",1265,890,1285,915],["b",1310,918,1375,940],["c",370,590,375,585],["g",490,500,505,495],["d",455,535,462,532],["y",440,560,460,540],["c",485,555,490,552],["r",505,625,520,655,505,685],["y",470,680,485,660],["r",480,655,500,625],["y",440,640,455,630],["l",435,670,445,645],["g",405,695,420,685],["d",530,670,538,680],["d",575,678,575,685],["c",452,740,458,735],["d",485,718,490,715],["l",545,720,548,725],["d",490,700,505,690],["d",368,740,372,745],["g",508,752,525,765],["r",515,785,520,798],["c",478,798,482,800],["d",528,812,532,815],["g",560,785,565,788],["b",598,785,605,812],["g",500,825,505,845],["r",555,848,560,865],["g",518,875,525,882],["b",680,820,690,805],["g",712,848,718,855],["o",690,865,692,885],["d",630,895,645,872],["d",622,920,630,908],["d",640,905,648,920],["c",692,930,695,935],["d",690,970,693,972],["d",335,950,350,968],["d",442,935,448,945],["c",545,1020,553,1040],["g",665,1022,672,1030],["d",798,1015,804,1018],["d",420,1075,422,1078],["c",785,1085,790,1095],["d",755,1095,760,1097],["d",790,1108,795,1112],["d",805,1115,810,1122],["c",838,1070,842,1076],["d",848,1090,858,1105],["l",838,1130,845,1145],["d",870,1130,880,1142],["c",865,1168,870,1170],["d",900,1178,905,1188],["c",925,1220,935,1232],["d",782,1235,790,1240],["c",848,1240,858,1260],["d",885,1265,895,1240],["d",920,1262,925,1258],["d",960,1265,990,1262],["c",910,1300,922,1305],["d",965,1295,968,1320,980,1338],["d",958,1322,980,1330],["r",1050,1352,1058,1368],["d",1012,1398,1030,1415],["c",1170,1452,1200,1450],["b",1255,1448,1278,1445],["b",1285,1430,1320,1405,1340,1385],["r",930,850,980,920],["g",960,900,985,930],["g",970,860,1000,865],["d",990,858,1040,860],["b",1040,865,1100,870],["r",1100,870,1180,900],["l",1185,905,1195,925],["d",995,860,1030,885],["g",1020,870,1040,895],["r",985,870,1000,890],["r",1045,895,1100,905],["g",1040,920,1065,895],["b",990,928,1015,925],["r",1060,922,1130,950],["o",1130,950,1145,975],["b",1145,985,1160,1005],["r",1160,945,1180,950],["y",1170,955,1195,970],["g",1205,970,1240,978],["y",1260,985,1270,975],["r",1280,978,1320,1025],["r",1220,908,1240,950],["r",1240,912,1265,912],["c",1265,912,1285,925],["r",1290,950,1310,970],["c",1310,970,1335,990],["d",1335,995,1365,1010],["b",1362,1020,1370,1070],["r",1330,1070,1345,1095],["d",1000,905,1010,925],["d",1040,1012,1090,1015],["r",1090,1015,1130,1040],["r",1130,1030,1155,1040],["l",1158,1040,1180,1060],["r",1185,1045,1210,1060],["y",1210,1060,1225,1080],["r",1115,1085,1135,1070,1165,1072],["g",1175,1078,1215,1080],["r",1215,1082,1245,1105],["c",1250,1110,1265,1125],["b",1265,1125,1285,1165],["r",1285,1165,1310,1185],["b",1310,1190,1335,1195],["r",1115,1090,1145,1140],["d",1140,1105,1190,1108],["g",1110,1125,1150,1110],["c",1190,1108,1225,1108],["r",1175,1085,1190,1105],["r",1125,1145,1165,1160],["c",1165,1158,1195,1140],["b",1165,1130,1205,1140],["g",1200,1145,1225,1170],["r",1205,1115,1255,1170],["c",1230,1170,1250,1190],["b",1210,1175,1230,1195],["r",1230,1195,1260,1235],["d",1170,1212,1198,1212],["d",1250,1190,1270,1215],["g",1335,1125,1375,1155],["d",1375,1155,1385,1165],["g",1385,1170,1392,1185],["r",1360,1190,1372,1195],["r",1358,1205,1350,1260],["r",1392,1230,1392,1248],["d",1428,1225,1428,1242],["c",1462,1205,1462,1232],["b",1497,1215,1497,1222],["b",1458,1268,1456,1298],["r",1360,1275,1365,1285],["r",1400,1050,1410,1060],["r",1430,1105,1445,1095],["d",1442,1075,1445,1095],["y",1430,1118,1432,1135],["r",1460,1102,1475,1112],["d",1460,1130,1465,1135],["b",1495,1125,1495,1160],["r",1205,1265,1225,1240,1250,1242],["c",1205,1250,1225,1245],["r",1225,1265,1280,1330],["r",1255,1240,1295,1255],["y",1295,1260,1320,1280],["c",1255,1260,1285,1280],["d",1230,1310,1265,1305],["r",1295,1345,1330,1380],["c",1305,1340,1320,1332],["g",1315,1345,1345,1330],["c",1350,1320,1365,1310],["y",1370,1310,1385,1325],["b",1385,1330,1360,1370],["d",1320,1368,1365,1355],["r",1345,1375,1360,1385],["g",1320,1375,1340,1360],["d",1315,1385,1335,1410],["c",1285,1290,1295,1310],["b",1250,1315,1260,1325]];
const segK=[["r",395,40,408,60,440,62,430,40,408,60],["d",408,40,412,50],["r",408,70,402,110,385,155,402,185],["b",395,195,385,225],["r",385,225,385,250],["g",385,250,375,290],["c",385,245,410,240],["y",375,290,362,305],["r",368,315,360,335],["b",755,62,790,65],["g",790,65,800,65],["c",820,65,835,65],["y",835,65,850,65],["r",865,68,905,70],["r",915,70,990,65],["y",990,65,1015,68],["r",1030,68,1075,68,1050,40],["g",1050,40,1052,60],["r",1075,68,1150,80,1170,68,1340,65],["y",1290,40,1295,60],["g",1340,65,1365,40],["r",1340,65,1480,65,1440,40,1390,40,1365,65],["r",1410,90,1490,85,1530,65,1495,40],["y",1420,60,1450,88],["c",1480,60,1500,40],["c",1380,70,1385,95],["r",1495,90,1497,105],["g",1190,95,1230,98],["r",1280,92,1310,90],["c",1345,125,1395,122],["b",1290,122,1302,122],["o",1430,122,1470,115],["y",1120,150,1150,122],["d",1150,122,1165,145],["d",1105,155,1118,165],["c",1115,200,1140,178],["c",1165,120,1215,118],["r",1215,118,1250,112],["r",1165,145,1225,148],["c",1235,148,1260,150],["b",1320,155,1365,150],["d",1140,175,1165,178],["g",1175,178,1220,180],["b",1220,185,1250,195],["g",1250,195,1300,200],["b",1110,205,1250,192],["r",1110,205,1165,205],["y",1165,205,1180,205],["r",1395,180,1450,200],["d",1345,205,1385,230],["y",1360,210,1385,230],["d",1425,150,1460,168],["b",1462,170,1490,165],["g",1497,150,1497,170],["b",1492,200,1492,225],["r",1460,235,1490,228],["c",1170,245,1185,270],["r",1185,270,1225,300],["b",1185,240,1235,255],["g",1270,245,1275,290,1300,298],["c",1300,298,1355,298],["r",1385,295,1440,315],["d",1440,315,1470,328],["g",1425,280,1425,300],["r",1415,245,1425,260],["d",1425,265,1450,275],["y",1395,325,1440,330],["y",1445,350,1455,365],["g",1495,265,1495,320],["r",1495,335,1495,370],["c",1493,382,1493,395],["r",1493,405,1493,460],["g",1290,345,1288,400],["g",1330,370,1335,395],["r",1330,400,1375,425],["b",1375,425,1425,445],["l",1470,430,1480,455],["r",1455,405,1470,430],["c",1282,450,1286,458],["d",1362,495,1390,515],["y",1390,520,1398,540],["r",1430,478,1460,500],["d",1435,560,1438,590],["r",1470,540,1475,570,1505,585],["o",1490,495,1502,570],["c",1500,590,1500,612],["g",1495,645,1493,655],["r",1110,205,1080,200,1045,215,1005,240],["g",975,240,1005,238],["b",915,255,975,240],["c",1010,250,1030,260],["r",800,300,840,270,915,255],["y",895,298,915,295],["r",760,350,840,315,895,290],["g",780,345,800,335],["r",735,370,780,355],["b",790,320,810,328],["r",715,322,780,325],["r",905,295,965,278],["g",1000,280,970,330],["r",970,250,1005,275],["r",565,350,610,340,640,285,690,265],["g",690,265,725,262],["b",725,260,750,230],["r",750,230,790,205,825,180,880,175,915,160],["c",915,160,945,155],["g",985,155,995,158],["d",965,185,975,185],["c",1040,325,1085,300],["d",1090,298,1098,295],["r",1165,330,1225,315],["b",1230,305,1262,298],["c",1020,340,1050,370],["d",1050,375,1072,392],["r",1085,378,1125,365],["c",1055,405,1085,425],["y",1060,410,1085,425],["c",1090,430,1110,455],["g",1000,432,1010,430],["c",495,390,520,362],["c",560,380,575,375],["b",525,400,545,390],["r",510,430,525,405],["g",590,325,610,320],["y",665,315,672,312],["o",630,340,638,338],["d",460,468,480,435],["b",595,395,598,412],["c",612,410,640,395],["g",650,395,700,378],["r",590,435,630,428,660,425,690,405],["g",660,410,695,400],["r",590,455,640,445,690,430,730,425],["d",680,465,700,480],["r",680,495,730,425,780,385],["d",715,405,740,415],["y",768,375,780,385],["r",760,400,775,392],["b",805,385,845,400],["r",805,390,845,405,885,400],["c",845,385,870,385],["c",885,400,915,370],["d",920,412,960,380],["g",985,402,1050,405],["d",970,452,1025,490],["c",995,435,1025,430],["g",1000,450,1010,430],["d",1075,500,1095,530],["r",575,490,590,465],["r",690,495,725,478],["g",725,478,760,480],["r",760,488,825,500],["r",780,470,850,450,830,495],["c",830,495,855,470],["d",855,465,880,450],["y",855,495,885,490],["g",725,535,770,535],["o",770,535,810,535],["r",810,530,840,530],["c",840,530,885,518],["r",745,575,790,560],["d",800,565,860,560],["d",885,555,905,568],["d",895,525,935,545],["o",935,545,945,550],["r",945,550,1005,590,1030,600],["d",925,505,950,505],["y",950,510,975,515],["d",975,515,995,525],["c",1065,605,1105,605],["d",1050,560,1065,590],["r",780,622,860,620],["y",795,595,815,592],["r",845,615,875,585,940,610,1025,610],["b",780,585,850,600],["d",850,600,860,625],["c",800,640,830,640],["d",830,620,850,640],["g",830,640,855,632],["r",855,635,925,625],["g",925,640,960,635],["y",950,640,1000,630],["r",1000,625,1055,650],["d",1035,660,1060,655],["d",1095,645,1130,660],["g",1110,650,1130,660],["y",1005,650,1025,655],["r",1165,640,1215,695],["r",1250,710,1300,765],["d",1110,635,1120,638],["c",1280,580,1330,620],["r",1245,575,1280,600],["b",1325,625,1375,660],["b",1375,660,1385,700],["d",850,668,875,665],["r",880,668,925,665,945,690],["d",845,700,850,720,880,720],["d",925,715,960,715],["c",930,725,950,715],["r",985,685,1005,735],["r",1005,710,1020,740],["g",1015,710,1035,712],["r",1060,690,1090,740,1150,790],["r",1035,715,1085,770,1150,795],["b",1150,795,1195,805],["g",1200,810,1225,850],["g",1225,855,1265,885],["y",1245,910,1280,918],["d",965,780,970,783],["d",1040,825,1070,842],["c",1080,850,1100,870],["r",1100,870,1160,895],["c",1160,895,1195,905],["c",1310,915,1375,940],["d",1265,890,1285,925],["r",1220,905,1240,945],["r",1230,915,1240,945],["y",1355,1005,1360,1028],["d",352,465,362,455],["r",408,450,405,475],["d",365,535,388,520],["r",395,510,410,500],["y",440,510,455,520],["g",440,515,462,530],["r",445,555,465,530],["o",490,508,500,512],["d",378,570,395,570,398,590],["o",370,590,380,575],["r",392,600,388,620],["b",388,625,378,645],["d",445,645,460,618],["r",432,670,445,645],["y",480,640,495,625],["r",500,625,520,655,505,680],["g",470,680,485,655],["l",405,695,425,680],["r",295,638,325,615],["g",268,660,268,708],["l",302,675,310,690],["d",485,718,495,712],["c",452,740,460,735],["l",545,720,550,725],["d",530,670,538,685],["g",368,740,372,748],["d",210,755,216,760],["d",345,785,350,810],["d",390,820,392,842],["d",470,795,480,820],["d",490,765,505,775],["c",510,755,525,765],["r",515,785,520,798],["g",560,785,565,788],["c",598,785,605,812],["g",500,825,505,845],["r",555,848,560,865],["g",518,875,525,882],["d",438,865,438,895],["d",520,895,532,925],["b",635,830,670,825],["d",672,820,688,805],["g",712,848,718,855],["r",690,860,690,885],["b",630,895,645,872],["d",622,920,630,908],["d",640,905,648,925],["d",690,895,698,910],["c",692,930,695,935],["d",690,970,693,972],["d",335,950,350,968],["c",442,935,448,945],["c",545,1020,553,1040],["g",665,1022,672,1030],["d",420,1075,422,1078],["d",745,1035,748,1040],["d",705,1112,708,1115],["d",725,1095,730,1110],["d",755,1095,760,1097],["c",775,1065,790,1095],["d",790,1095,805,1125,810,1110],["g",838,1070,842,1076],["d",848,1090,858,1105],["o",838,1130,845,1145],["d",870,1130,880,1142],["d",678,1172,682,1175],["b",868,1170,878,1200],["c",925,1215,935,1232],["d",782,1235,790,1240],["c",848,1240,858,1260],["d",885,1265,895,1240],["d",920,1262,925,1258],["d",960,1265,990,1262],["c",910,1300,922,1305],["d",935,1302,945,1315],["d",965,1295,968,1320,980,1338],["d",958,1322,980,1330],["r",1050,1352,1058,1368],["b",1012,1398,1030,1415],["c",1170,1452,1200,1450],["b",1255,1448,1278,1445],["c",1285,1430,1320,1405,1340,1385],["r",930,850,980,920],["g",960,900,985,930],["y",970,925,1010,930],["d",945,860,1015,860],["r",1020,860,1060,865],["r",980,865,1000,905],["d",1000,860,1035,880],["r",1045,885,1100,905],["d",1035,910,1055,892],["g",1020,870,1040,890],["r",1050,915,1135,950,1155,1000],["y",1160,945,1195,965],["g",1210,970,1240,978],["d",1240,978,1250,995],["r",1280,978,1320,1025],["r",1220,905,1240,950],["d",1290,955,1310,970],["r",1290,975,1310,1005],["r",1040,1012,1090,1015],["r",1100,1020,1140,1040],["c",1155,1015,1185,1020],["r",1165,1040,1180,1075],["g",1175,1045,1210,1065],["o",1210,1065,1225,1085],["b",1175,1080,1225,1085],["r",1115,1085,1135,1070,1170,1072],["r",1115,1090,1145,1140],["c",1140,1105,1200,1115],["d",1150,1130,1200,1135],["r",1125,1145,1165,1158],["g",1165,1158,1200,1150],["c",1200,1110,1250,1150],["r",1225,1090,1255,1125],["c",1230,1100,1255,1125],["b",1255,1130,1275,1165],["r",1280,1165,1310,1190],["d",1200,1110,1215,1160],["g",1215,1160,1245,1195],["c",1175,1210,1198,1212],["d",1215,1170,1225,1200],["g",1245,1185,1262,1190],["r",1270,1170,1305,1195],["d",1270,1190,1280,1205],["r",1305,1195,1330,1225],["r",1330,1120,1365,1150],["g",1365,1150,1392,1185],["g",1330,1100,1335,1120],["o",1295,1108,1305,1112],["r",1355,1190,1365,1195],["y",1350,1225,1355,1250],["r",1392,1230,1392,1248],["b",1430,1225,1430,1242],["c",1462,1205,1462,1232],["g",1497,1215,1497,1222],["l",1458,1268,1456,1298],["r",1360,1275,1365,1285],["b",1420,1155,1428,1180],["r",1430,1105,1445,1095,1475,1110],["r",1430,1118,1432,1135],["d",1460,1130,1465,1135],["c",1495,1125,1495,1160],["d",1330,1068,1338,1068],["d",1360,1055,1370,1075],["r",1400,1050,1410,1060],["b",1455,700,1455,725],["r",1458,650,1458,672],["y",1458,672,1458,680],["r",1452,735,1452,770],["g",1452,770,1455,800],["r",1490,780,1490,810],["r",1492,695,1492,730],["r",1455,880,1460,888],["b",1492,890,1492,920],["c",1458,930,1458,955],["g",1462,995,1480,1000],["d",1465,1010,1468,1040],["r",1495,1005,1500,1025],["g",1340,780,1345,800],["g",1345,800,1375,808],["c",1380,815,1395,825],["r",1410,835,1425,855],["g",1415,800,1420,808],["r",1205,1265,1225,1240,1250,1242],["c",1205,1250,1225,1245],["r",1225,1265,1280,1330],["r",1255,1240,1295,1255],["y",1295,1260,1320,1280],["c",1255,1260,1285,1280],["d",1225,1310,1265,1305,1255,1330],["r",1295,1345,1330,1380],["c",1305,1340,1320,1332],["g",1315,1345,1345,1300],["r",1345,1330,1375,1335,1360,1385],["c",1365,1350,1390,1310],["b",1320,1368,1365,1355],["g",1320,1375,1340,1360],["r",1285,1290,1295,1310]];
const segL=[["r",410,45,415,60,450,62,470,40,490,55,500,40],["b",415,40,440,55],["d",440,40,465,55],["r",415,65,412,110,395,155,410,185],["b",408,190,398,220],["d",398,220,392,240],["c",395,245,445,245],["c",455,245,472,243],["l",390,250,388,285],["y",388,285,370,300],["d",368,330,380,312],["b",395,335,410,325],["d",412,275,415,300],["d",430,330,436,335],["d",440,330,448,352],["g",475,328,495,328],["r",500,310,520,290],["y",510,295,530,288],["c",600,55,670,58],["r",670,58,740,60],["g",780,62,830,62],["b",830,62,880,64],["y",880,66,915,70],["r",920,70,960,66],["y",960,66,975,66],["r",980,66,1030,66],["r",1040,66,1060,40,1085,68,1150,80,1170,68,1340,65],["b",1085,55,1100,40],["r",1170,68,1480,65,1440,40,1400,40,1365,65],["g",1305,40,1345,62],["c",1345,62,1370,40],["g",1340,60,1350,90],["r",1410,90,1490,85,1540,65,1510,40],["y",1420,60,1445,85],["g",1435,60,1450,40],["r",1400,85,1475,90],["o",1385,70,1392,95],["r",1505,95,1505,140],["d",1198,95,1240,100],["y",1280,92,1305,90],["c",1355,122,1410,122],["r",1455,118,1480,112],["d",1335,155,1375,150],["r",1150,170,1220,180],["g",1130,150,1160,120],["r",1160,120,1225,118],["r",1225,118,1260,112],["g",1165,145,1210,148],["d",1210,148,1280,150,1310,125],["c",1430,148,1465,168],["d",1465,170,1505,170],["b",1505,195,1505,225],["r",1465,235,1500,225],["r",1340,188,1360,195],["b",1155,205,1225,205],["b",1225,205,1275,195],["c",1355,205,1395,232],["o",1370,210,1395,232],["d",1445,188,1450,192],["c",1395,178,1405,182],["d",1505,248,1505,285],["g",1505,295,1505,315],["r",1505,320,1505,365],["b",1505,375,1505,400],["o",1505,410,1505,430],["r",1500,470,1515,575],["d",1180,240,1200,245],["c",1205,240,1230,245],["g",1185,270,1230,280],["y",1230,285,1240,305],["r",1170,330,1235,315],["d",1278,240,1285,285,1325,298],["d",1360,298,1375,298],["r",1390,295,1440,305,1470,322],["d",1420,270,1435,320],["r",1420,240,1440,270],["g",1440,265,1465,275],["g",1458,350,1465,395],["y",1460,400,1470,415],["d",1470,415,1490,445],["c",1300,365,1300,400],["c",1340,365,1335,400],["g",1335,400,1360,415],["b",1360,415,1400,430],["y",1410,435,1430,445],["r",1440,475,1470,498],["d",1470,505,1472,525],["c",1472,540,1485,570],["g",1402,520,1405,545],["y",1445,575,1445,590],["d",1165,500,1195,520],["d",1215,530,1210,545],["y",1190,540,1195,545],["d",1195,405,1230,430],["d",1290,450,1295,458],["d",1398,265,1402,268],["r",1115,210,1170,240],["r",1090,200,1050,218,990,240],["g",970,240,1015,238],["g",1015,238,1040,240,1060,280],["d",975,250,1005,270],["c",1005,270,1035,265],["g",985,270,1005,285,985,335,1020,340],["r",1025,340,1060,370],["d",1020,330,1060,315],["r",915,260,940,265],["d",905,292,925,290],["c",925,290,945,280],["r",840,270,920,258,800,310],["r",835,305,860,298],["y",800,325,835,305],["g",820,295,860,272],["r",505,385,560,350,610,330,690,268],["c",690,268,730,265],["b",740,225,750,258],["r",750,258,680,268],["r",555,330,570,350],["r",555,330,610,325],["g",480,385,490,350],["r",500,310,550,265,620,240,650,232],["g",650,232,665,228],["b",680,210,740,195],["r",745,230,790,205,830,180,870,178,920,160,985,155],["c",840,178,865,178],["b",985,155,1040,158],["g",1040,160,1060,190],["d",995,185,1015,200],["r",1035,215,1090,200],["y",720,325,770,325],["r",760,350,800,335],["r",760,355,745,380],["b",715,350,765,365],["d",760,360,790,385],["c",640,405,680,385],["r",680,385,740,380],["r",690,415,715,405],["r",740,380,790,340],["y",700,420,730,410],["r",670,410,690,415],["g",630,410,660,385],["b",565,385,585,375],["r",530,410,560,390],["d",780,380,790,385],["c",790,370,810,385],["r",745,430,700,470],["c",805,375,820,395],["r",810,385,860,410],["c",855,382,895,395],["r",860,405,890,405],["c",895,395,930,400],["d",950,375,945,410],["d",935,395,985,395],["g",985,398,1000,400],["r",745,475,790,465],["r",790,465,870,450],["r",760,475,810,500,890,488],["d",900,510,910,488],["c",860,520,900,518],["d",965,458,980,450],["y",985,458,1015,470],["g",1015,470,1045,510],["d",965,495,1000,520],["d",980,495,990,510],["c",1000,440,1050,460],["r",1005,430,1045,445],["o",1045,450,1085,470],["r",1060,405,1105,435],["d",1105,435,1145,458],["d",1125,490,1135,492],["d",1050,405,1080,395],["y",1095,378,1120,370],["d",1120,370,1135,362],["g",1160,385,1165,390],["c",1045,515,1060,550],["d",1060,555,1078,585],["d",740,535,780,540],["c",790,540,830,530],["g",810,530,870,525],["r",770,570,870,555],["d",905,530,920,555],["r",915,535,970,585],["r",885,590,960,620,1030,650],["r",920,565,1045,600],["c",970,580,1010,590],["b",775,590,830,595],["c",800,620,825,622],["d",835,610,855,630],["r",830,640,870,605,875,635,930,620],["g",930,615,975,635],["b",1000,630,1060,640],["c",1015,655,1030,665],["r",1030,640,1060,650],["y",1010,655,1030,665],["d",1035,680,1060,660],["b",1095,645,1130,660],["r",1140,680,1170,710],["r",1175,640,1225,695],["r",1260,708,1300,755],["r",1300,755,1325,790],["d",1290,745,1315,770],["b",1250,575,1330,615],["r",1355,635,1385,660],["b",1385,665,1392,700],["g",880,670,855,705],["b",855,720,890,722],["r",855,665,910,668],["y",930,670,950,690],["d",940,715,970,715],["c",945,735,950,735],["d",1000,690,1010,705],["c",1010,715,1050,725],["b",1050,725,1100,745],["g",1090,720,1105,735],["r",1075,690,1095,725],["r",1075,735,1145,855],["b",1130,770,1165,795],["c",1165,795,1205,805],["g",1205,810,1235,855],["g",1235,855,1245,870],["d",1245,875,1275,885],["d",975,780,980,783],["d",365,455,355,465],["y",340,485,365,465],["r",325,515,335,490],["b",280,570,292,540],["r",415,450,418,495],["g",395,515,402,545],["r",400,510,415,500],["c",440,440,460,450],["r",465,470,480,490],["y",460,440,475,460],["d",450,515,475,535],["d",480,515,510,500],["r",450,555,470,535],["d",505,565,512,558],["d",378,562,382,570],["r",380,588,386,595],["c",390,575,410,570,405,610],["r",405,610,390,640],["r",305,640,335,615],["d",305,640,318,665],["o",315,675,315,690],["d",312,700,316,718],["g",278,660,278,705],["d",235,680,242,680],["r",222,758,230,785],["g",440,670,470,620],["d",412,695,430,682],["c",475,680,490,660],["r",490,655,510,625,530,660],["d",525,672,545,690],["d",500,705,520,685],["c",578,685,584,688],["g",550,720,556,726],["c",460,742,466,738],["g",378,740,380,750],["d",355,785,358,810],["d",402,820,400,842],["d",480,795,490,820],["d",490,760,510,775],["d",520,750,535,765],["y",520,780,530,795],["c",570,785,575,790],["c",535,810,540,815],["d",608,785,615,812],["b",508,825,515,845],["g",530,872,533,880],["r",562,848,568,860],["d",447,865,447,895],["d",630,910,638,895],["b",640,895,655,870],["c",645,828,690,825],["d",690,820,705,805],["o",710,825,725,845],["r",700,860,700,885],["d",700,885,710,908],["b",650,900,658,928],["c",698,930,702,935],["d",340,945,358,968],["c",450,935,456,942],["d",698,968,702,972],["d",555,1020,562,1040],["g",675,1020,682,1030],["d",202,998,208,1000],["d",757,1035,760,1040],["d",805,1050,810,1055],["d",712,1112,718,1115],["d",735,1095,740,1110],["d",765,1095,770,1097],["c",790,1080,800,1095],["d",800,1095,815,1125,820,1110],["g",848,1070,852,1076],["d",860,1090,885,1140],["o",848,1130,855,1145],["d",890,1100,893,1105],["c",875,1165,880,1168],["d",688,1172,692,1175],["d",912,1175,915,1188],["c",930,1215,942,1232],["d",790,1235,798,1240],["c",858,1240,868,1260],["b",895,1265,905,1240],["d",930,1262,935,1258],["d",970,1265,1000,1262],["c",920,1300,932,1305],["d",945,1302,955,1315],["d",975,1295,978,1320,990,1338],["d",968,1322,990,1330],["d",1025,1345,1030,1348],["r",1058,1352,1066,1368],["c",1022,1398,1040,1415],["c",1180,1452,1210,1450],["b",1262,1448,1285,1445],["g",1290,1430,1305,1415],["o",1305,1410,1325,1395],["r",940,850,990,925],["g",970,900,995,930],["d",985,858,1020,860],["r",1030,860,1060,865],["r",1110,870,1170,895],["c",1170,895,1205,905],["r",990,865,1010,905],["d",1040,885,1070,900,1050,910],["r",1050,915,1135,940],["y",1005,885,1010,905],["r",1020,925,1140,945],["y",1140,950,1150,975],["r",1150,985,1180,1000],["d",1135,930,1175,950],["c",1175,950,1205,965],["g",1205,970,1255,978],["d",1170,905,1180,920],["d",1195,905,1205,930],["r",1230,905,1245,945],["r",1245,910,1295,915,1285,945],["d",1315,960,1340,990],["g",1340,925,1365,945],["d",1340,925,1385,940],["r",1275,975,1315,1005,1335,1030],["r",1305,1005,1340,1025],["d",1340,1025,1385,1070],["c",1355,1010,1370,1030],["y",1405,1050,1418,1062],["d",1428,935,1435,945],["d",1442,985,1445,1040],["c",1472,1005,1475,1040],["g",1485,995,1510,1020],["d",1255,985,1260,990],["r",1305,950,1335,985],["d",1040,1012,1100,1015],["r",1105,1018,1140,1035],["c",1170,1015,1195,1020],["r",1165,1040,1190,1050],["r",1190,1045,1215,1060],["c",1195,1080,1230,1085],["g",1230,1075,1250,1085],["d",1120,1070,1185,1072],["r",1125,1085,1150,1070],["r",1120,1100,1165,1155],["d",1125,1110,1160,1100,1205,1110],["g",1140,1135,1195,1120],["r",1125,1130,1165,1155],["d",1205,1140,1225,1175],["b",1205,1115,1255,1140],["r",1240,1100,1265,1125],["c",1265,1110,1285,1130],["r",1285,1130,1310,1160],["b",1220,1170,1240,1205],["d",1180,1212,1205,1212],["o",1250,1185,1265,1205],["r",1275,1175,1330,1190],["d",1320,1190,1345,1230],["b",1350,1250,1365,1270],["r",1340,1130,1380,1160],["g",1370,1150,1395,1185],["d",1335,1108,1345,1115],["g",1340,1095,1345,1105],["g",1370,1140,1390,1165],["y",1440,1115,1440,1135],["r",1438,1100,1455,1090,1480,1110],["g",1468,1125,1472,1135],["c",1430,1155,1436,1180],["c",1505,1125,1505,1160],["d",1472,1205,1472,1225],["y",1505,1212,1505,1222],["d",1505,1245,1505,1252],["r",1400,1225,1400,1245],["r",1360,1240,1370,1250],["g",1462,1268,1466,1298],["c",1503,890,1503,920],["r",1465,878,1468,885],["r",1468,648,1468,680],["d",1503,648,1503,670],["b",1503,670,1503,695],["r",1505,700,1505,730],["r",1463,735,1463,770],["y",1463,770,1468,800],["r",1500,780,1500,810],["g",1425,800,1430,805],["c",1350,780,1385,810],["r",1385,815,1432,855],["r",1215,1240,1280,1245],["r",1205,1245,1265,1310],["g",1230,1240,1245,1255],["r",1240,1255,1290,1315],["r",1290,1245,1330,1280],["d",1240,1305,1275,1305,1265,1330],["r",1300,1345,1330,1380],["c",1320,1340,1330,1332],["d",1320,1345,1340,1320],["r",1340,1370,1385,1355,1370,1385],["y",1380,1315,1395,1335],["g",1355,1300,1380,1310],["d",1330,1365,1370,1355],["g",1320,1385,1330,1375],["d",1330,1395,1345,1410],["c",1268,1350,1280,1365]];
const allSegs=[segA,segB,segC,segD,segE,segF,segG,segH,segI,segJ,segK,segL];
const fracX=[[527,630,660,555],[1265,1368,1423,1320],[465,567,648,545],[1205,1310,1418,1313],[838,1044,1315,1110],[765,975,1298,1092],[710,918,1298,1092],[665,872,1305,1102],[620,822,1316,1112],[546,755,1298,1092],[495,700,1298,1092],[445,652,1306,1102]];
const fracY=[[1338,1422],[1262,1430],[1170,1422],[1085,1422],[996,1425],[908,1422],[840,1440],[753,1440],[665,1417],[582,1417],[497,1417],[413,1415]];
const dataRangeX=[[20,775],[785,1540],[12,765],[780,1535],[50,1550],[32,1530],[30,1530],[40,1540],[50,1543],[30,1530],[30,1530],[40,1540]];
const dataRangeY=[[1545,35],[1545,42],[1545,35],[1545,35],[1552,18],[1552,18],[1550,25],[1565,25],[1538,38],[1538,38],[1538,38],[1538,38]];
const labelX=[55,800,35,782,107,84,88,62,98,88,62,75];
const labelY=[124,128,142,142,127,130,118,115,108,108,113,113];
const W=3723,H=3027;
const panelBoxes=[[21,816,23,1005],[826,1621,27,1005],[1633,2425,23,1005],[2441,3236,23,1005],[26,820,1021,2000],[827,1620,1021,2000],[1636,2430,1026,1998],[2441,3235,1026,2008],[26,817,2025,3007],[826,1620,2025,3008],[1636,2430,2025,3008],[2441,3235,2025,3008]];
const lineColors={r:"#f03c3c",o:"#ea9a50",y:"#d8dc3c",l:"#98e03c",g:"#20d850",m:"#20dca0",c:"#10c8e0",b:"#3a80e0",d:"#4646cc"};
const traces=[],annotations=[],layout={width:W,height:H,margin:{l:0,r:0,t:0,b:0},paper_bgcolor:"#ffffff",plot_bgcolor:"#afafaf",showlegend:false,hovermode:false,barmode:"overlay"};
allSegs.forEach((segs,i)=>{
  const n=i===0?"":String(i+1),xa="x"+n,ya="y"+n,b=panelBoxes[i];
  layout["xaxis"+n]={domain:[b[0]/W,b[1]/W],range:dataRangeX[i],visible:false,fixedrange:true,anchor:ya};
  layout["yaxis"+n]={domain:[1-b[3]/H,1-b[2]/H],range:dataRangeY[i],visible:false,fixedrange:true,anchor:xa};
  Object.keys(lineColors).forEach(k=>{
    const xs=[],ys=[];
    segs.filter(s=>s[0]===k).forEach(s=>{for(let j=1;j<s.length;j+=2){xs.push(s[j]);ys.push(s[j+1]);}xs.push(null);ys.push(null);});
    if(xs.length)traces.push({type:"scatter",mode:"lines",x:xs,y:ys,xaxis:xa,yaxis:ya,line:{color:lineColors[k],width:4.2},hoverinfo:"skip",connectgaps:false});
  });
  const fx=fracX[i],fy=fracY[i];
  traces.push({type:"scatter",mode:"lines",x:[fx[0],fx[1],fx[2],fx[3],fx[0]],y:[fy[0],fy[0],fy[1],fy[1],fy[0]],xaxis:xa,yaxis:ya,fill:"toself",fillcolor:"#ffffff",line:{color:"#ffffff",width:1},hoverinfo:"skip"});
  annotations.push({text:panelLabels[i],x:labelX[i],y:labelY[i],xref:xa,yref:ya,xanchor:"left",yanchor:"middle",showarrow:false,font:{family:"Liberation Serif",size:85,color:"#111111"},borderpad:0});
});
const heights=colorBarColors.map((c,i)=>colorBarBins[i+1]-colorBarBins[i]);
colorBarColors.forEach((c,i)=>traces.push({type:"bar",x:[0.5],y:[heights[i]],base:[colorBarBins[i]],width:[1],xaxis:"x13",yaxis:"y13",marker:{color:c,line:{width:0}},hoverinfo:"skip"}));
layout.xaxis13={domain:[3290/W,3343/W],range:[0,1],visible:false,fixedrange:true,anchor:"y13"};
layout.yaxis13={domain:[1-3012/H,1-261/H],range:[colorBarBins[0],colorBarBins[colorBarBins.length-1]],side:"right",anchor:"x13",tickmode:"array",tickvals:colorBarTicks,ticktext:colorBarTickText,ticks:"",showgrid:false,zeroline:false,showline:false,fixedrange:true,ticklabelstandoff:88,tickfont:{family:"Liberation Serif",size:88,color:"#333333"}};
annotations.push({text:"Discharge",x:3283/W,y:1-78/H,xref:"paper",yref:"paper",xanchor:"left",yanchor:"middle",showarrow:false,font:{family:"Liberation Sans",size:86,color:"#000000"}});
annotations.push({text:"rate(m<sup>3</sup>·s<sup>-1</sup>)",x:3283/W,y:1-176/H,xref:"paper",yref:"paper",xanchor:"left",yanchor:"middle",showarrow:false,font:{family:"Liberation Sans",size:86,color:"#000000"}});
layout.annotations=annotations;
Plotly.newPlot("chart",traces,layout,{displayModeBar:false,responsive:false});
</script></body></html>
